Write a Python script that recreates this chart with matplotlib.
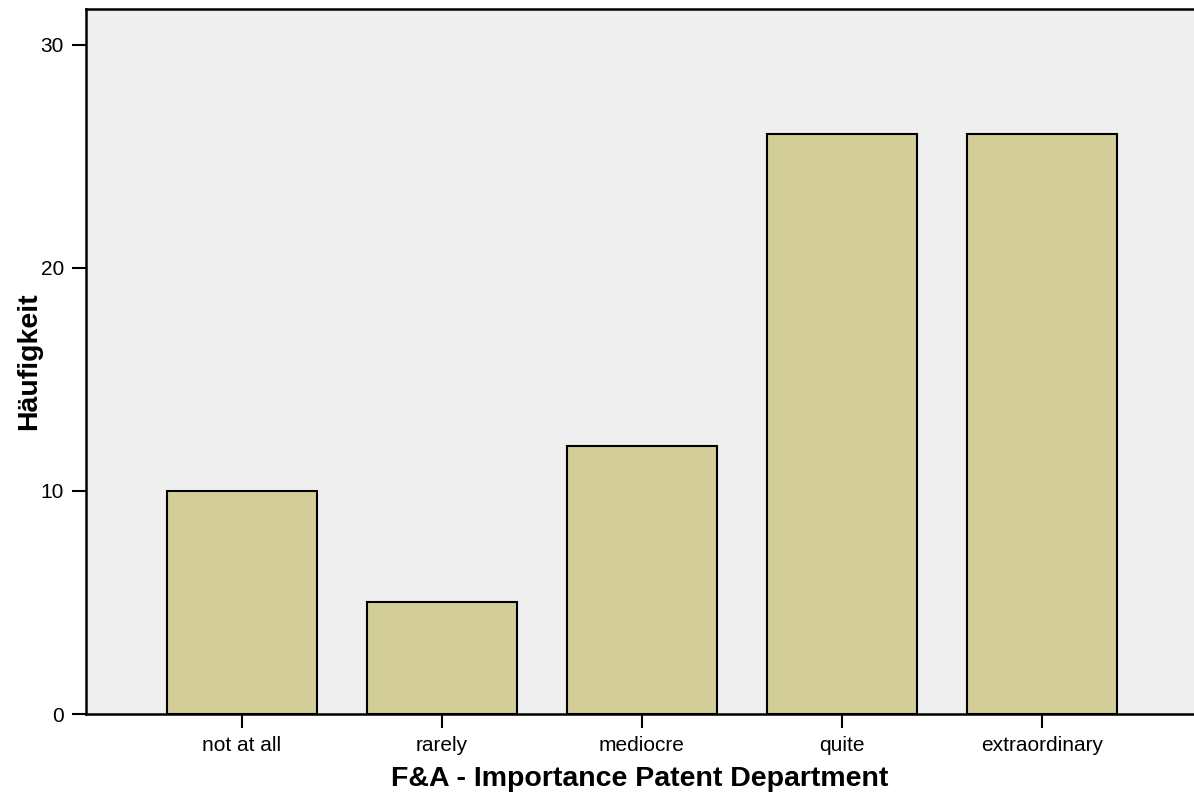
import matplotlib.pyplot as plt

categories = ['not at all', 'rarely', 'mediocre', 'quite', 'extraordinary']
counts = [10, 5, 12, 26, 26]
y_ticks = [0, 10, 20, 30]

plt.rcParams['font.family'] = ['Liberation Sans', 'DejaVu Sans']

fig = plt.figure(figsize=(11.94, 8), dpi=100)
ax = fig.add_axes([86 / 1194, 86 / 800, 1 - 86 / 1194, (714 - 9) / 800])
ax.set_facecolor('#efefef')

pos = list(range(len(categories)))
ax.bar(pos, counts, width=0.75, color='#d3ce97', edgecolor='black', linewidth=1.5, zorder=2)

ax.set_xlim(-0.78, 4.76)
ax.set_ylim(0, 31.6)
ax.set_xticks(pos)
ax.set_xticklabels(categories)
ax.set_yticks(y_ticks)

ax.tick_params(axis='both', labelsize=15, length=10, width=1.5, direction='out', pad=6)
for side in ['left', 'top', 'bottom']:
    ax.spines[side].set_linewidth(1.8)
ax.spines['right'].set_visible(False)

ax.set_xlabel('F&A - Importance Patent Department', fontsize=20.5, fontweight='bold', labelpad=8)
ax.set_ylabel('Häufigkeit', fontsize=20.5, fontweight='bold')
ax.yaxis.set_label_coords(-0.0397, 0.5)

fig.savefig('out.png', dpi=100)
